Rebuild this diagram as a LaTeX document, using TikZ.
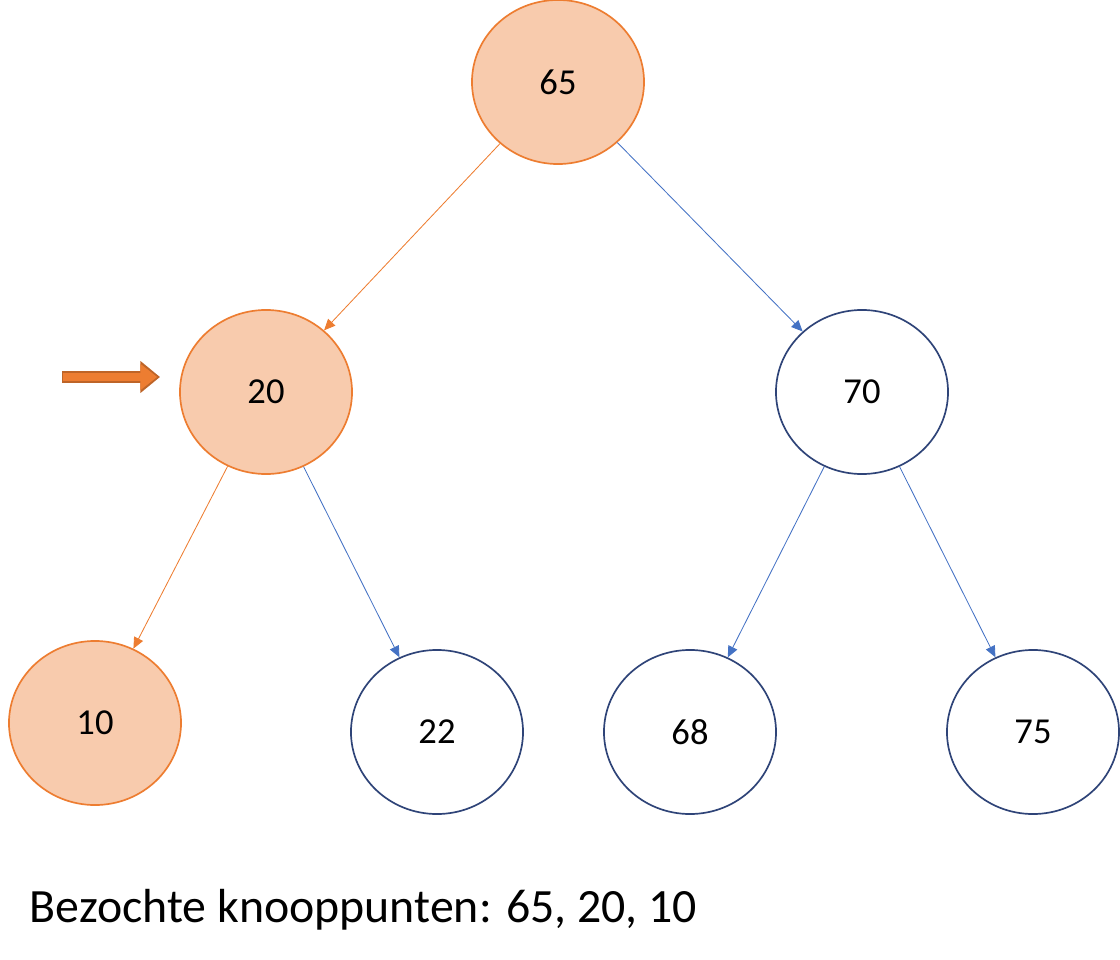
\documentclass[tikz,border=0pt]{standalone}
\usepackage{fontspec}
\setmainfont{Carlito}
\usetikzlibrary{shapes, arrows.meta, positioning}
\definecolor{orng}{RGB}{237,125,49}
\definecolor{orngfill}{RGB}{248,203,173}
\definecolor{navy}{RGB}{47,68,120}
\definecolor{blu}{RGB}{68,114,196}
\tikzstyle{visited} = [ellipse, draw=orng, fill=orngfill, line width=1.2pt, minimum width=4.3cm, minimum height=4.1cm, font=\fontsize{26}{30}\selectfont]
\tikzstyle{plain} = [ellipse, draw=navy, line width=1.2pt, minimum width=4.3cm, minimum height=4.1cm, font=\fontsize{26}{30}\selectfont]
\tikzstyle{path} = [-{Triangle[length=8pt,width=7pt]}, orng, line width=0.6pt]
\tikzstyle{edge} = [-{Triangle[length=8pt,width=7pt]}, blu, line width=0.6pt]

\begin{document}
\begin{tikzpicture}[x=0.025cm, y=-0.025cm]
  \useasboundingbox (0,0) rectangle (1120,960);
  % knopen
  \node[visited] (n65) at (558,82) {65};
  \node[visited] (n20) at (266,392) {20};
  \node[plain] (n70) at (862,392) {70};
  \node[visited] (n10) at (95,723) {10};
  \node[plain] (n22) at (437,732) {22};
  \node[plain] (n68) at (690,732) {68};
  \node[plain] (n75) at (1033,732) {75};

  % pijlen
  \draw[path] (n65) -- (n20);
  \draw[edge] (n65) -- (n70);
  \draw[path] (n20) -- (n10);
  \draw[edge] (n20) -- (n22);
  \draw[edge] (n70) -- (n68);
  \draw[edge] (n70) -- (n75);

  % huidige knoop
  \coordinate (a1) at (62,377);
  \coordinate (a2) at (160,377);
  \draw[-{Triangle[length=14pt,width=22pt]}, line width=9pt, draw=orng!80!black] (a1) -- (a2);
  \draw[-{Triangle[length=12pt,width=18pt]}, line width=6pt, draw=orng] ([xshift=1pt]a1) -- ([xshift=-2pt]a2);

  % tekst
  \node[anchor=west, font=\fontsize{34}{40}\selectfont] (lbl) at (25,910) {Bezochte knooppunten: 65, 20, 10};
\end{tikzpicture}
\end{document}
